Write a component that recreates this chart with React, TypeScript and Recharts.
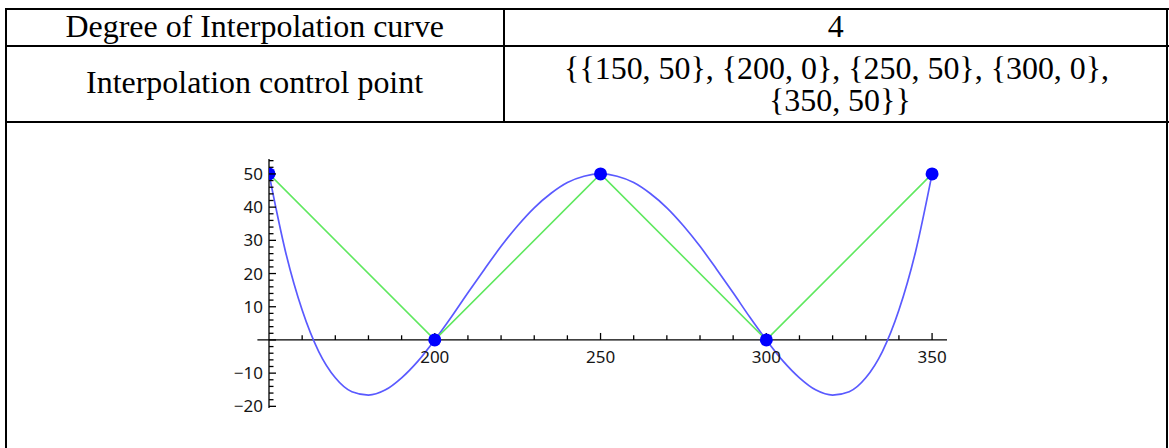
import React from "react";
import {
  ComposedChart,
  Line,
  XAxis,
  YAxis,
  ReferenceLine,
} from "recharts";

// interpolation control points
const ctrlX = [150, 200, 250, 300, 350];
const ctrlY = [50, 0, 50, 0, 50];

// sampled degree-4 interpolation curve
const curveX = [
  150, 155, 160, 165, 170, 175, 180, 185, 190, 195, 200, 205, 210, 215, 220,
  225, 230, 235, 240, 245, 250, 255, 260, 265, 270, 275, 280, 285, 290, 295,
  300, 305, 310, 315, 320, 325, 330, 335, 340, 345, 350,
];
const curveY = [
  50, 26.5, 9.0, -3.5, -11.4, -15.6, -16.6, -15.1, -11.4, -6.3, 0, 6.9, 14.2,
  21.3, 28.2, 34.4, 39.8, 44.1, 47.4, 49.3, 50, 49.3, 47.4, 44.1, 39.8, 34.4,
  28.2, 21.3, 14.2, 6.9, 0, -6.3, -11.4, -15.1, -16.6, -15.6, -11.4, -3.5, 9.0,
  26.5, 50,
];

// axis ticks
const xLabelTicks = [200, 250, 300, 350];
const xMinorTicks = [
  160, 170, 180, 190, 210, 220, 230, 240, 260, 270, 280, 290, 310, 320, 330,
  340,
];
const yLabelTicks = [-20, -10, 10, 20, 30, 40, 50];
const yAllTicks = [
  -20, -18, -16, -14, -12, -10, -8, -6, -4, -2, 0, 2, 4, 6, 8, 10, 12, 14, 16,
  18, 20, 22, 24, 26, 28, 30, 32, 34, 36, 38, 40, 42, 44, 46, 48, 50, 52, 54,
];

const degreeLabel = "Degree of Interpolation curve";
const degreeValue = "4";
const pointsLabel = "Interpolation control point";
const pointsLines = ["{{150, 50}, {200, 0}, {250, 50}, {300, 0},", "{350, 50}}"];

const curveData = curveX.map((x, i) => ({ x, y: curveY[i] }));
const ctrlData = ctrlX.map((x, i) => ({ x, y: ctrlY[i] }));

const tickFont = "'Noto Sans', 'DejaVu Sans', sans-serif";
const tickSize = 17;
const tickColor = "#151515";
const fmt = (v: number) => (v < 0 ? "\u2212" + Math.abs(v) : String(v));

function YTick(props: any) {
  const { x, y, payload } = props;
  const v = payload.value as number;
  const labelled = yLabelTicks.includes(v);
  const major = v % 10 === 0;
  return (
    <g>
      <line x1={x} y1={y} x2={x + (major ? 7 : 4.5)} y2={y} stroke="#000" strokeWidth={1.3} />
      {labelled && (
        <text
          x={x - 6}
          y={y}
          dy="0.36em"
          textAnchor="end"
          fontFamily={tickFont}
          fontSize={tickSize}
          fill={tickColor}
        >
          {fmt(v)}
        </text>
      )}
    </g>
  );
}

const line = (left: number, top: number, w: number, h: number) => (
  <div style={{ position: "absolute", left, top, width: w, height: h, background: "#000" }} />
);

function Cell({ text, cx, baseline }: { text: string; cx: number; baseline: number }) {
  return (
    <div
      style={{
        position: "absolute",
        left: cx - 400,
        width: 800,
        top: baseline - 27,
        textAlign: "center",
        fontFamily: "'Liberation Serif', 'Times New Roman', serif",
        fontSize: 31,
        lineHeight: "31px",
        whiteSpace: "nowrap",
      }}
    >
      <span style={{ display: "inline-block", transform: "scaleX(1.03)" }}>{text}</span>
    </div>
  );
}

export default function App() {
  return (
    <div
      style={{
        position: "absolute",
        left: 0,
        top: 0,
        width: 1169,
        height: 448,
        background: "#fff",
        overflow: "hidden",
      }}
    >
      {line(5, 8, 1164, 2)}
      {line(5, 45, 1164, 2)}
      {line(5, 121, 1164, 2)}
      {line(5, 8, 2, 440)}
      {line(1166, 8, 2, 440)}
      {line(503, 8, 2, 115)}

      <Cell text={degreeLabel} cx={255} baseline={38} />
      <Cell text={degreeValue} cx={836} baseline={38} />
      <Cell text={pointsLabel} cx={255} baseline={94} />
      <Cell text={pointsLines[0]} cx={837} baseline={80} />
      <Cell text={pointsLines[1]} cx={840} baseline={112} />

      <div style={{ position: "absolute", left: 0, top: 0 }}>
        <ComposedChart
          width={1169}
          height={448}
          margin={{ top: 159, right: 222, bottom: 40, left: 209 }}
        >
          <XAxis type="number" dataKey="x" domain={[150, 354.5]} hide allowDataOverflow />
          <YAxis
            type="number"
            width={60}
            domain={[-20.5, 54.5]}
            ticks={yAllTicks}
            interval={0}
            tickSize={0}
            tickMargin={0}
            tickLine={false}
            axisLine={{ stroke: "#000", strokeWidth: 1.3 }}
            tick={<YTick />}
          />
          {/* horizontal axis through y = 0 */}
          <ReferenceLine
            segment={[
              { x: 146.5, y: 0 },
              { x: 354.5, y: 0 },
            ]}
            ifOverflow="visible"
            stroke="#000"
            strokeWidth={1.3}
          />
          {xMinorTicks.map((v) => (
            <ReferenceLine
              key={"m" + v}
              segment={[
                { x: v, y: 1.4 },
                { x: v, y: 0 },
              ]}
              ifOverflow="visible"
              stroke="#000"
              strokeWidth={1.3}
            />
          ))}
          {xLabelTicks.map((v) => (
            <ReferenceLine
              key={"t" + v}
              segment={[
                { x: v, y: 2.1 },
                { x: v, y: 0 },
              ]}
              ifOverflow="visible"
              stroke="#000"
              strokeWidth={1.3}
              label={{
                value: String(v),
                position: "bottom",
                offset: 11,
                fontFamily: tickFont,
                fontSize: tickSize,
                fill: tickColor,
              }}
            />
          ))}
          <Line
            data={curveData}
            dataKey="y"
            type="monotone"
            stroke="#5a5aff"
            strokeWidth={1.7}
            dot={false}
            isAnimationActive={false}
          />
          <Line
            data={ctrlData}
            dataKey="y"
            type="linear"
            stroke="#5fe85f"
            strokeWidth={1.6}
            dot={false}
            isAnimationActive={false}
          />
          <Line
            data={ctrlData}
            dataKey="y"
            type="linear"
            stroke="none"
            dot={{ r: 6.5, fill: "#0000ff", stroke: "none" }}
            isAnimationActive={false}
          />
        </ComposedChart>
      </div>
    </div>
  );
}
